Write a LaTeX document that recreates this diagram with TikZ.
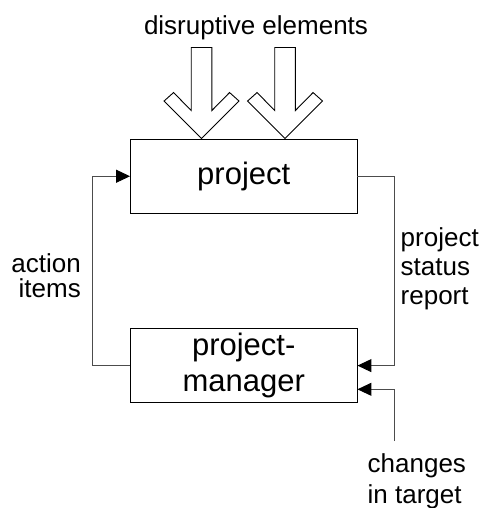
\documentclass[tikz,border=0pt]{standalone}
\usepackage{fontspec}
\setmainfont{Liberation Sans}
\usetikzlibrary{arrows.meta,calc}
\begin{document}
\begin{tikzpicture}[x=1pt,y=-1pt,
  box/.style={draw=black,line width=0.9pt,minimum width=226.5pt,minimum height=74.5pt,
    inner sep=0pt,font=\fontsize{31}{35.5}\selectfont,align=center},
  lbl/.style={font=\fontsize{26}{30}\selectfont,inner sep=0pt},
  conn/.style={draw=black!70,line width=1pt,
    -{Triangle[length=14pt,width=13pt,color=black]}},
  fat/.style={draw=black,line width=0.9pt,fill=white,line join=miter},
  pics/fatarrow/.style={code={
    \draw[fat] (0,0) -- (37.5,-37.5) -- (28,-46) -- (10.3,-28) -- (10.3,-91)
      -- (-10.3,-91) -- (-10.3,-28) -- (-28,-46) -- (-37.5,-37.5) -- cycle;}}
]
\useasboundingbox (0,0) rectangle (485,508);

% the two blocks of the control loop
\node[box] (proj) at (243.75,176.25) {project};
\node[box] (pm) at (243.75,365.6) {project-\\manager};

% feedback loop
\draw[conn] (pm.west) -- ++(-38,0) |- (proj.west);
\draw[conn] (proj.east) -- ++(37.5,0) |- (pm.east);
\coordinate (chg) at (394.5,441);
\draw[conn] (chg) |- ($(pm.east)+(0,23.7)$);

% disturbances acting on the project
\pic at ($(proj.north west)+(71.5,0)$) {fatarrow};
\pic at ($(proj.north west)+(155,0)$) {fatarrow};

% labels
\node[lbl,anchor=base] (dis) at (256,35) {disruptive elements};
\node[lbl,anchor=base east] (act1) at (81,272) {action};
\node[lbl,anchor=base east] (act2) at (81,297.5) {items};
\node[lbl,anchor=base west] (st1) at (400.5,246.5) {project};
\node[lbl,anchor=base west] (st2) at (400.5,275.5) {status};
\node[lbl,anchor=base west] (st3) at (400.5,304.5) {report};
\node[lbl,anchor=base west] (ch1) at (367.5,472.5) {changes};
\node[lbl,anchor=base west] (ch2) at (367.5,503) {in target};
\end{tikzpicture}
\end{document}
